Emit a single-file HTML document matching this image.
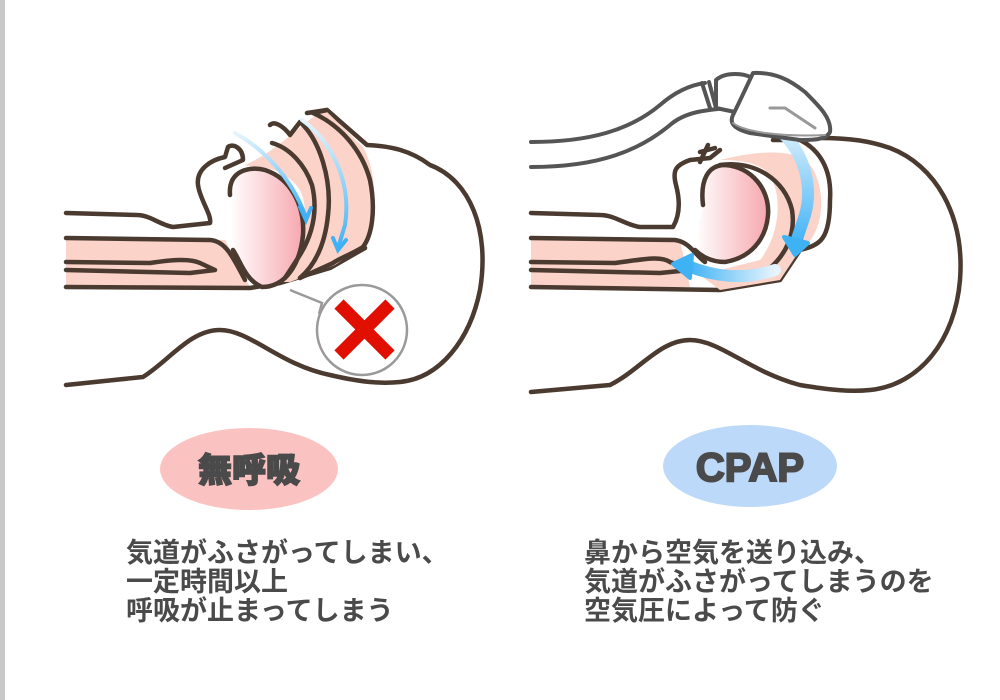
<!DOCTYPE html>
<html><head><meta charset="utf-8"><style>
html,body{margin:0;padding:0;background:#fff;}
body{width:1000px;height:700px;overflow:hidden;position:relative;font-family:"Liberation Sans","Noto Sans CJK JP",sans-serif;}
.bar{position:absolute;left:0;top:0;width:5px;height:700px;background:#c8c8c8;}
.t{position:absolute;font-weight:bold;color:#4a4a4a;font-size:27px;line-height:29px;white-space:nowrap;font-family:"Noto Sans CJK JP",sans-serif;}
</style></head><body>
<div class="bar"></div>
<svg width="1000" height="700" style="position:absolute;left:0;top:0">
<defs>
<linearGradient id="tg" x1="0" x2="1" y1="0" y2="0"><stop offset="0" stop-color="#fff"/><stop offset="1" stop-color="#f6a7ae"/></linearGradient>
<linearGradient id="bg1" x1="0" x2="0" y1="0" y2="1"><stop offset="0" stop-color="#e6f4fd"/><stop offset="1" stop-color="#3fb2f5"/></linearGradient>
<linearGradient id="bg2" x1="1" x2="0" y1="0" y2="0"><stop offset="0" stop-color="#e6f4fd"/><stop offset="1" stop-color="#3fb2f5"/></linearGradient>
</defs>
<g stroke="#4a3a30" stroke-width="4.5" fill="none" stroke-linecap="round" stroke-linejoin="round">
<!-- LEFT PANEL -->
<path d="M66,385 L143,377 C170,360 190,330 220,330 C250,330 280,365 330,375 C360,382 380,384 400,382 C440,378 470,340 480,290 C490,230 470,180 430,165 C410,150 390,146 367,145 L327,110 L307,113" />
<path fill="#fcd3c8" stroke="none" d="M66,238 L225,240 L250,287 L66,287Z"/>
<path d="M66,238 L210,240 C225,241 232,255 245,280"/>
<path d="M66,262 L150,263 C170,260 190,258 200,263 L215,270 L190,273 L66,270"/>
<path d="M66,287 L250,288 L280,283 L330,268 L365,248"/>
<path d="M66,213 L137,215 C150,215 160,225 173,227 L210,223 C212,215 200,200 198,185 C196,170 210,160 225,157 L228,147 C233,143 243,148 243,160 L225,168"/>
<path fill="#fcd3c8" stroke="none" d="M245,165 C280,150 310,115 325,110 L362,146 C378,170 378,220 365,245 L335,265 L290,282 L280,282 C300,250 312,215 300,190 C290,175 270,165 255,168Z"/>
<path fill="url(#tg)" d="M230,195 C228,170 250,166 265,170 C290,178 305,205 303,235 C300,265 285,287 262,287 C245,280 240,260 233,250" />
<path d="M270,125 C275,120 285,128 290,135 L300,122 C320,140 332,180 328,215 C325,245 315,265 300,278"/>
<path d="M272,143 C290,148 305,165 312,185 C318,210 313,235 298,258 L285,278"/>
<path d="M313,113 C340,125 362,150 370,180 C376,210 372,235 363,247 C350,255 340,258 333,263 L300,278"/>
<path d="M313,113 L327,110"/>
</g>
<g fill="none" stroke-linecap="round">
<path d="M235,133 C262,148 290,175 305,215" stroke="url(#bg1)" stroke-width="4"/>
<path d="M300,207 L306,220 L311,208" stroke="#3fb2f5" stroke-width="4"/>
<path d="M302,120 C330,140 352,180 345,225 L338,248" stroke="url(#bg1)" stroke-width="4"/>
<path d="M333,238 L338,250 L346,240" stroke="#3fb2f5" stroke-width="4"/>
</g>
<circle cx="362" cy="330" r="45" fill="#fff" stroke="#9a9a9a" stroke-width="2.5"/>
<path d="M290,290 L322,303 L319,314" fill="#fff" stroke="#9a9a9a" stroke-width="2.5"/>
<path d="M339,304 L390,355 M390,304 L339,355" stroke="#e00f00" stroke-width="13"/>

<!-- RIGHT PANEL -->
<g stroke="#4a3a30" stroke-width="4.5" fill="none" stroke-linecap="round" stroke-linejoin="round">
<path d="M531,392 L610,385 C640,370 660,340 690,340 C720,340 750,372 800,385 C830,390 850,392 870,390 C920,385 955,340 960,280 C965,215 935,165 890,148 C870,141 850,138 820,138" />
<path fill="#fcd3c8" stroke="none" d="M531,238 L680,240 L690,287 L531,287Z"/>
<path d="M531,238 L675,240 C690,242 695,255 705,262"/>
<path d="M531,262 L615,263 C640,260 660,255 670,262 L690,270 L660,273 L531,270"/>
<path d="M531,287 L720,290 L780,280 L800,250 C820,245 830,240 830,200 C832,170 820,150 800,140 L773,140"/>
<path d="M531,213 L600,215 C615,215 625,225 640,227 L673,227 C680,215 680,200 676,185 C672,170 676,165 690,160 L710,158 L720,150"/>
<path fill="#fcd3c8" stroke="none" d="M720,160 C760,150 790,150 805,160 C825,175 830,230 800,250 L780,280 L720,290 L700,275 L760,260 C780,235 785,190 765,170 C750,160 730,160 720,160Z"/>
<path fill="url(#tg)" d="M703,205 C700,180 708,165 725,165 C752,167 770,190 768,215 C766,240 750,258 725,262 C710,262 700,255 695,250"/>
<path d="M720,165 C755,160 785,180 792,210 C796,235 785,255 770,268"/>
<path d="M700,152 L715,148 M708,145 L700,162"/>
</g>
<g fill="none" stroke-linecap="round">
<path d="M765,120 C800,140 815,180 805,215 L795,245" stroke="url(#bg1)" stroke-width="12"/>
<path d="M784,237 L795,255 L808,243Z" fill="#3fb2f5" stroke="#3fb2f5" stroke-width="4" stroke-linejoin="round"/>
<path d="M775,270 C745,280 715,277 688,266" stroke="url(#bg2)" stroke-width="12"/>
<path d="M692,255 L673,264 L690,278Z" fill="#3fb2f5" stroke="#3fb2f5" stroke-width="4" stroke-linejoin="round"/>
</g>
<g stroke="#555" stroke-width="4" stroke-linejoin="round" stroke-linecap="round" fill="none">
<path d="M531,142 C590,142 630,130 660,105 C675,92 690,85 705,83"/>
<path d="M531,167 C600,167 640,150 670,125 C685,112 705,110 728,108"/>
<path d="M702,83 L710,108 M709,82 L716,108"/>
<path d="M716,80 C725,72 745,72 755,80 C762,92 755,108 735,112 L716,108Z" fill="#fff"/>
<path d="M753,73 C775,72 790,80 805,92 C818,105 832,118 830,132 C826,140 813,140 800,140 L750,133 C738,130 728,125 733,115 C738,105 745,90 753,73Z" fill="#fff"/>
<path d="M770,108 L785,108 L815,128" stroke="#999" stroke-width="3"/>
<path d="M733,123 C745,132 780,137 825,135" stroke="#999" stroke-width="2"/>
</g>
<ellipse cx="249" cy="469" rx="89" ry="41" fill="#fbc2c2"/>
<ellipse cx="750" cy="466" rx="87" ry="41" fill="#bcd9fa"/>
<text x="249" y="482" text-anchor="middle" font-family="Noto Sans CJK JP,sans-serif" font-weight="900" font-size="34" fill="#4a4a4a" stroke="#4a4a4a" stroke-width="1.5">無呼吸</text>
<text x="750" y="481" text-anchor="middle" font-family="Liberation Sans,sans-serif" font-weight="bold" font-size="40" fill="#4a4a4a" stroke="#4a4a4a" stroke-width="2">CPAP</text>
</svg>
<div class="t" style="left:126px;top:536px">気道がふさがってしまい、<br>一定時間以上<br>呼吸が止まってしまう</div>
<div class="t" style="left:584px;top:536px">鼻から空気を送り込み、<br>気道がふさがってしまうのを<br>空気圧によって防ぐ</div>
</body></html>
